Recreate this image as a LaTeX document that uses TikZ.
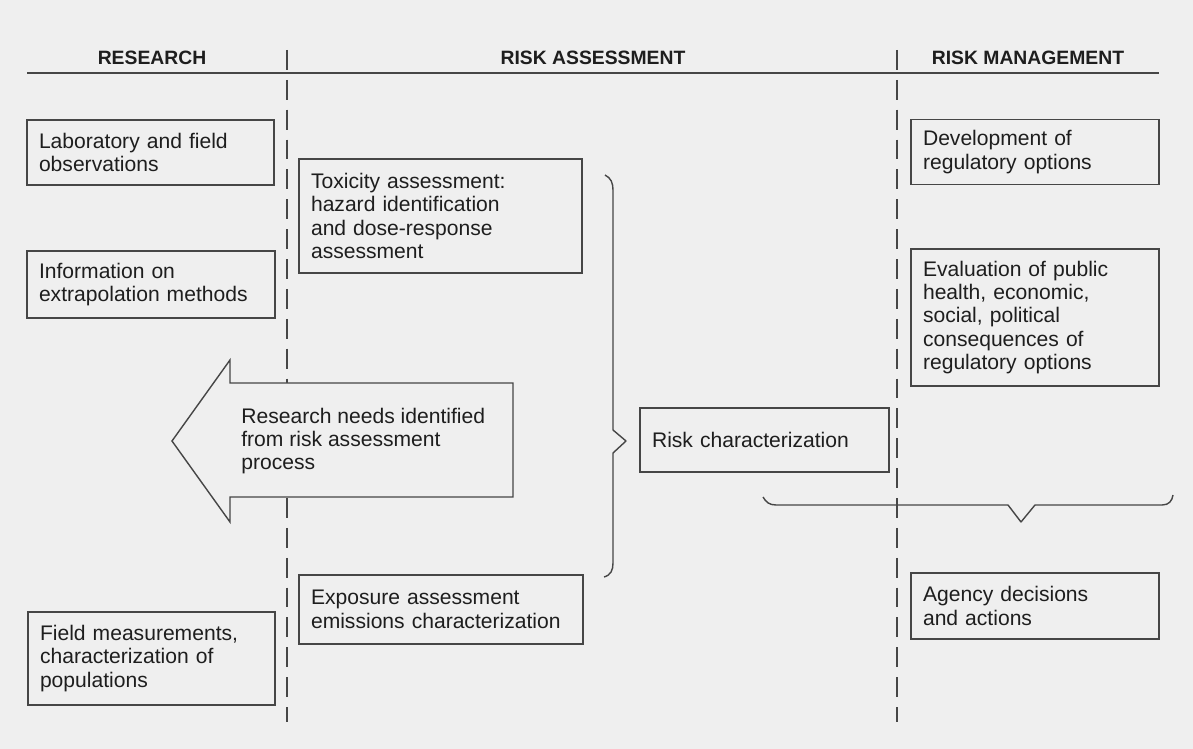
\documentclass[tikz,border=0pt]{standalone}
\usepackage{fontspec}
\setmainfont{Liberation Sans}
\usetikzlibrary{positioning}
\definecolor{paper}{RGB}{239,239,239}
\definecolor{ink}{RGB}{30,30,30}
\definecolor{rulegray}{RGB}{70,70,70}

\begin{document}
\begin{tikzpicture}[
    x=0.02cm, y=-0.02cm,
    box/.style={draw=rulegray, line width=0.8pt, fill=paper, align=left,
                inner xsep=0.24cm, inner ysep=0pt, text=ink,
                font=\fontsize{12}{13.3}\selectfont},
    head/.style={text=ink, font=\fontsize{11}{13}\selectfont\bfseries},
    lane/.style={rulegray, line width=1.1pt, dash pattern=on 11.3pt off 5.7pt},
    brace/.style={rulegray, line width=0.8pt, line join=round}
]
\fill[paper] (0,0) rectangle (1193,749);
\useasboundingbox (0,0) rectangle (1193,749);

% column headings and separators
\node[head] (research) at (152,58) {RESEARCH};
\node[head] (assess)   at (593,58) {RISK ASSESSMENT};
\node[head] (manage)   at (1028,58) {RISK MANAGEMENT};
\draw[rulegray, line width=0.6pt] (27,73) -- (1159,73);
\foreach \x in {287,897}{
    \draw[lane] (\x,50) -- (\x,722);
}

\node[box, text width=4.46cm, minimum height=1.30cm] (lab) at (150.5,152.5)
    {Laboratory and field\\observations};
\node[box, text width=4.48cm, minimum height=1.34cm] (extrap) at (151,284.5)
    {Information on\\extrapolation methods};
\node[box, text width=4.46cm, minimum height=1.86cm] (field) at (151.5,658.5)
    {Field measurements,\\characterization of\\populations};

\node[box, text width=5.18cm, minimum height=2.28cm] (toxicity) at (440.5,216)
    {Toxicity assessment:\\hazard identification\\and dose-response\\assessment};
\node[box, text width=5.20cm, minimum height=1.38cm] (exposure) at (441,609.5)
    {Exposure assessment\\emissions characterization};
\node[box, text width=4.50cm, minimum height=1.28cm] (riskchar) at (764.5,440)
    {Risk characterization};

\node[box, text width=4.48cm, minimum height=1.30cm] (options) at (1035,152)
    {Development of\\regulatory options};
\node[box, text width=4.48cm, minimum height=2.74cm] (evaluation) at (1035,317.5)
    {Evaluation of public\\health, economic,\\social, political\\consequences of\\regulatory options};
\node[box, text width=4.48cm, minimum height=1.32cm] (decisions) at (1035,606)
    {Agency decisions\\and actions};

% big arrow back to research
\filldraw[draw=rulegray, fill=paper, line width=0.8pt, line join=miter]
    (513,383) -- (230,383) -- (230,360) -- (172,441) -- (230,522)
    -- (230,497) -- (513,497) -- cycle;
\node[anchor=west, align=left, inner sep=0pt, text=ink,
      font=\fontsize{12}{13.3}\selectfont] (needs) at (241,441)
    {Research needs identified\\from risk assessment\\process};

% braces
\draw[brace] (605,175) .. controls (611,178) and (613,183) .. (613,190)
    -- (613,430) -- (626,441) -- (613,453) -- (613,563)
    .. controls (613,570) and (611,575) .. (604,577);
\draw[brace] (763,497) .. controls (766,502) and (769,505) .. (776,505)
    -- (1008,505) -- (1021,522) -- (1035,505) -- (1162,505)
    .. controls (1169,505) and (1172,501) .. (1173,495);
\end{tikzpicture}
\end{document}
